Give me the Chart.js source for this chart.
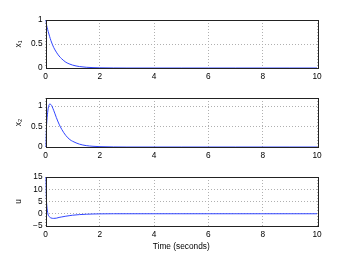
<!DOCTYPE html>
<html><head><meta charset="utf-8">
<script src="https://cdn.jsdelivr.net/npm/chart.js@4"></script>
<style>
html,body{margin:0;padding:0;background:#fff;}
#wrap{position:relative;width:350px;height:264px;}
canvas{position:absolute;left:0;top:0;}
</style></head><body>
<div id="wrap">
<canvas id="c1" width="350" height="264"></canvas>
<canvas id="c2" width="350" height="264"></canvas>
<canvas id="c3" width="350" height="264"></canvas>
</div>
<script>
const time = [0,0.01,0.02,0.04,0.06,0.08,0.1,0.15,0.2,0.3,0.4,0.5,0.6,0.75,0.9,1,1.25,1.5,1.75,2,2.5,3,4,5,6,7,8,9,10];
const x1 = [1,0.97,0.945,0.89,0.845,0.80,0.76,0.66,0.57,0.43,0.33,0.25,0.19,0.12,0.08,0.06,0.03,0.015,0.008,0.004,0.001,0,0,0,0,0,0,0,0];
const x2 = [0,0.17,0.32,0.55,0.72,0.85,0.95,1.05,1.04,0.9,0.72,0.56,0.43,0.28,0.18,0.14,0.07,0.034,0.017,0.009,0.002,0,0,0,0,0,0,0,0];
const u  = [15,11,8,4.5,2,0.5,-0.5,-1.3,-1.7,-1.9,-1.8,-1.5,-1.3,-1.0,-0.75,-0.6,-0.35,-0.2,-0.1,-0.05,0,0,0,0,0,0,0,0,0];
const xTicks = [0,2,4,6,8,10];
const yTicks1 = [0,0.5,1];
const yTicks2 = [0,0.5,1];
const yTicks3 = [-5,0,5,10,15];
const labels = ['x\u2081','x\u2082','u'];
const xTitle = 'Time (seconds)';

const FONT = {family:'"Liberation Sans", Arial, sans-serif', size:8.3};
const frame = {
  id:'frame',
  afterDraw(chart){
    const a = chart.chartArea, ctx = chart.ctx;
    ctx.save();
    ctx.strokeStyle = '#222'; ctx.lineWidth = 1;
    ctx.strokeRect(Math.round(a.left)+0.5, Math.round(a.top)+0.5, Math.round(a.right-a.left), Math.round(a.bottom-a.top));
    ctx.restore();
  }
};

function make(id, vals, ymin, ymax, yt, label, top, bottom, showTitle){
  const xH = showTitle ? 26 : 14;
  return new Chart(document.getElementById(id), {
    type:'line',
    data:{datasets:[{data: time.map((t,i)=>({x:t,y:vals[i]})), borderColor:'rgb(50,70,255)', borderWidth:1, pointRadius:0, cubicInterpolationMode:'monotone', fill:false}]},
    options:{
      responsive:false, animation:false, events:[],
      layout:{padding:{left:14,right:33,top:top,bottom:264-bottom-xH}},
      plugins:{legend:{display:false},tooltip:{enabled:false}},
      scales:{
        x:{type:'linear',min:0,max:10,
          afterBuildTicks(s){s.ticks = xTicks.map(v=>({value:v}));},
          afterFit(s){s.height = xH;},
          grid:{color:'#b0b0b0',lineWidth:1,drawTicks:false,tickLength:0},
          border:{display:false, dash:[1,2]},
          ticks:{color:'#000',font:FONT,padding:4,maxRotation:0,autoSkip:false},
          title:{display:showTitle,text:xTitle,color:'#000',font:FONT,padding:{top:0,bottom:0}}
        },
        y:{type:'linear',min:ymin,max:ymax,
          afterBuildTicks(s){s.ticks = yt.map(v=>({value:v}));},
          afterFit(s){s.width = 31.5;},
          grid:{color:'#b0b0b0',lineWidth:1,drawTicks:false,tickLength:0},
          border:{display:false, dash:[1,2]},
          ticks:{color:'#000',font:FONT,padding:3,autoSkip:false,callback:v=>String(v).replace('-','\u2212')},
          title:{display:true,text:label,color:'#000',font:FONT,padding:{top:0,bottom:0}}
        }
      }
    },
    plugins:[frame]
  });
}
make('c1', x1, 0, 1, yTicks1, labels[0], 20, 68, false);
make('c2', x2, 0, 1.2, yTicks2, labels[1], 98, 147, false);
make('c3', u, -5, 15, yTicks3, labels[2], 177, 226, true);
</script>
</body></html>
